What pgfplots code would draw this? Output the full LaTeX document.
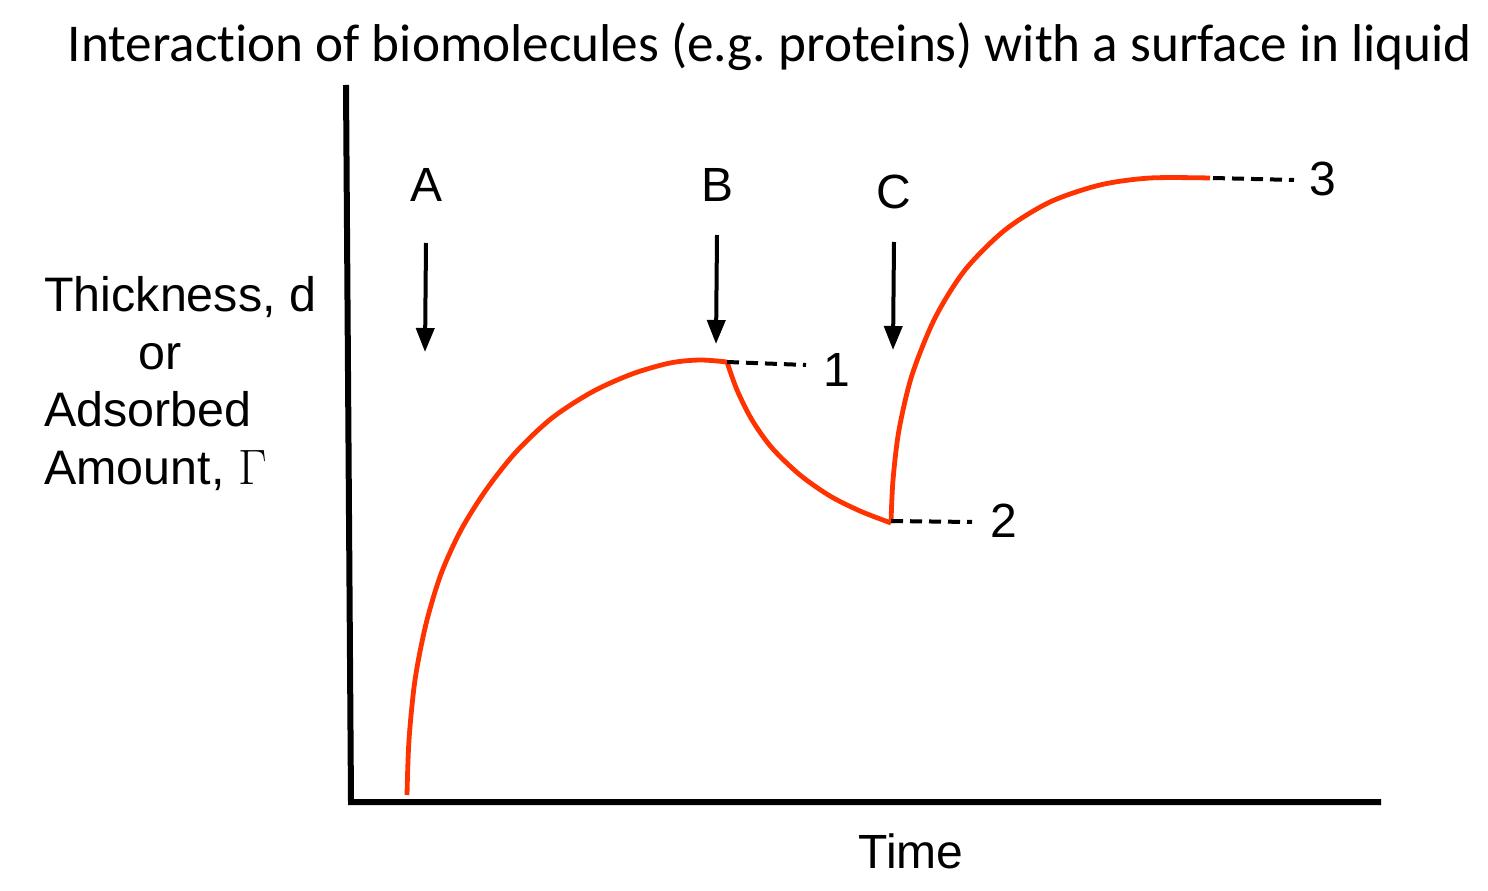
\documentclass[border=0pt]{standalone}
\usepackage{pgfplots}
\pgfplotsset{compat=1.18}
\usepackage{fontspec}
\setmainfont{Liberation Sans}
\newfontfamily\titlefont[Ligatures=NoCommon]{Carlito}
\usetikzlibrary{arrows.meta}
\definecolor{curvered}{RGB}{255,51,0}
\begin{document}
\begin{tikzpicture}
\begin{axis}[
  scale only axis, width=744pt, height=445pt,
  xmin=0, xmax=1488, ymin=-890, ymax=0,
  hide axis, clip=false,
]
% invisible frame points to fix the bounding box
\addplot[draw=none] coordinates {(0,0) (1488,-890)};
% axes
\addplot[black, line width=3pt] coordinates {(346,-85) (351,-802) (1381,-802)};
% segment 1: adsorption
\addplot[curvered, line width=2.4pt, smooth] coordinates {
(407,-795) (409,-740) (415,-680) (426,-624) (441,-574) (461,-530) (486,-490)
(516,-452) (552,-418) (592,-392) (632,-374) (670,-363) (700,-360) (727,-362)};
% segment 2: rinse / desorption
\addplot[curvered, line width=2.4pt, smooth] coordinates {
(727,-362) (737,-390) (752,-420) (772,-448) (800,-475) (830,-496) (860,-511) (891,-523)};
% segment 3: second adsorption
\addplot[curvered, line width=2.4pt, smooth] coordinates {
(891,-523) (893,-480) (899,-430) (912,-375) (935,-318) (965,-270) (1005,-230)
(1050,-202) (1100,-185) (1150,-178) (1210,-178)};
% dashed levels
\addplot[black, line width=2pt, dash pattern=on 6pt off 3.5pt] coordinates {(727,-362) (806,-365)};
\addplot[black, line width=2pt, dash pattern=on 6pt off 3.5pt] coordinates {(891,-521) (972,-522)};
\addplot[black, line width=2pt, dash pattern=on 6pt off 3.5pt] coordinates {(1213,-178) (1294,-180)};
% arrows
\draw[line width=2pt, -{Triangle[length=12pt,width=9pt]}] (axis cs:426,-243) -- (axis cs:425,-352);
\draw[line width=2pt, -{Triangle[length=12pt,width=9pt]}] (axis cs:717,-235) -- (axis cs:716,-344);
\draw[line width=2pt, -{Triangle[length=12pt,width=9pt]}] (axis cs:894,-242) -- (axis cs:893,-350);
% labels
\node[font=\fontsize{24}{28}\selectfont] at (axis cs:427,-185) {A};
\node[font=\fontsize{24}{28}\selectfont] at (axis cs:718,-185) {B};
\node[font=\fontsize{24}{28}\selectfont] at (axis cs:894,-192) {C};
\node[font=\fontsize{24}{28}\selectfont] at (axis cs:837,-370) {1};
\node[font=\fontsize{24}{28}\selectfont] at (axis cs:1004,-521) {2};
\node[font=\fontsize{24}{28}\selectfont] at (axis cs:1323,-179) {3};
\node[font=\fontsize{24}{28}\selectfont] at (axis cs:911,-851) {Time};
\node[font=\fontsize{26.6}{30}\selectfont\titlefont] at (axis cs:770,-47) {Interact\kern0pt ion of biomolecules (e.g.\ proteins) with a surface in liquid};
\node[font=\fontsize{24.2}{28.8}\selectfont, anchor=north west, align=left, inner sep=0pt] at (axis cs:44,-276) {Thickness, d\\\hspace{1.95em}or\\Adsorbed\\Amount, $\Gamma$};
\end{axis}
\end{tikzpicture}
\end{document}
